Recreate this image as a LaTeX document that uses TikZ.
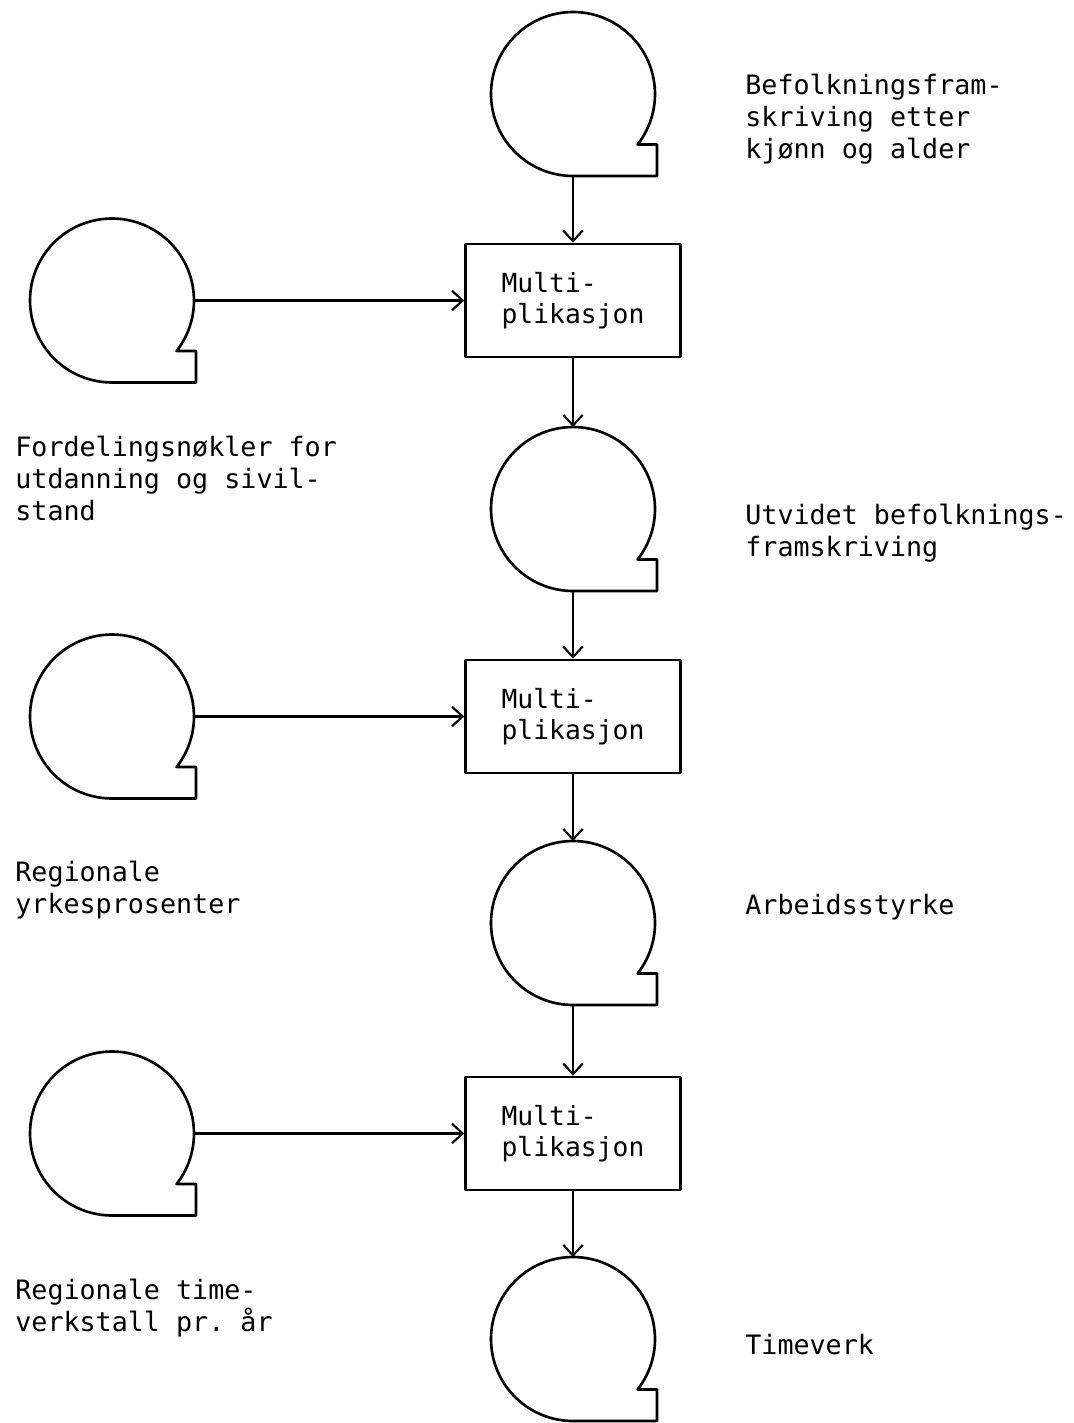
\documentclass[tikz,border=0pt]{standalone}
\usepackage{fontspec}
\setmonofont{DejaVu Sans Mono}
\usetikzlibrary{arrows.meta}
\tikzset{
  geom/.style={draw=black, line width=1.5pt, line cap=round, line join=round},
  flow/.style={draw=black, line width=1.2pt, -{Straight Barb[length=6pt,width=11pt]}},
  tapenode/.style={circle, minimum size=3.28cm, inner sep=0pt, outer sep=0pt},
  procbox/.style={geom, rectangle, minimum width=4.3cm, minimum height=2.26cm,
    align=left, inner sep=0pt, font=\ttfamily\fontsize{15}{17.6}\selectfont},
  lab/.style={anchor=north west, align=left, inner sep=0pt,
    font=\ttfamily\fontsize{15.2}{18}\selectfont},
}
% magnetic tape symbol round a named circle node
\newcommand{\tapeoutline}[1]{%
  \draw[geom] (#1.-38) arc[start angle=-38, end angle=270, radius=1.64cm]
    -- ([xshift=1.68cm]#1.south) |- (#1.-38) -- cycle;
}

\begin{document}
\begin{tikzpicture}[x=0.02cm, y=0.02cm]
  \fill[white] (0,0) rectangle (1074,-1423);
  \useasboundingbox (0,0) rectangle (1074,-1423);

  % main column
  \node[tapenode] (befolk) at (573,-94) {};
  \node[procbox] (mult1) at (573,-300.5) {Multi-\\plikasjon};
  \node[tapenode] (utvidet) at (573,-509) {};
  \node[procbox] (mult2) at (573,-716.5) {Multi-\\plikasjon};
  \node[tapenode] (arbeid) at (573,-923) {};
  \node[procbox] (mult3) at (573,-1133.5) {Multi-\\plikasjon};
  \node[tapenode] (timeverk) at (573,-1339) {};

  % keys on the left
  \node[tapenode] (fordel) at (112,-300.5) {};
  \node[tapenode] (yrke) at (112,-716.5) {};
  \node[tapenode] (timetall) at (112,-1133.5) {};

  \tapeoutline{befolk}
  \tapeoutline{utvidet}
  \tapeoutline{arbeid}
  \tapeoutline{timeverk}
  \tapeoutline{fordel}
  \tapeoutline{yrke}
  \tapeoutline{timetall}

  \draw[flow] (befolk.south) -- (mult1.north);
  \draw[flow] (mult1.south) -- (utvidet.north);
  \draw[flow] (utvidet.south) -- (mult2.north);
  \draw[flow] (mult2.south) -- (arbeid.north);
  \draw[flow] (arbeid.south) -- (mult3.north);
  \draw[flow] (mult3.south) -- (timeverk.north);
  \draw[flow] (fordel.east) -- (mult1.west);
  \draw[flow] (yrke.east) -- (mult2.west);
  \draw[flow] (timetall.east) -- (mult3.west);

  % labels
  \node[lab] (lbefolk) at (745,-74) {Befolkningsfram-\\skriving etter\\kjønn og alder};
  \node[lab] (lfordel) at (15,-436) {Fordelingsnøkler for\\utdanning og sivil-\\stand};
  \node[lab] (lutvidet) at (745,-504) {Utvidet befolknings-\\framskriving};
  \node[lab] (lyrke) at (15,-861) {Regionale\\yrkesprosenter};
  \node[lab] (larbeid) at (745,-894) {Arbeidsstyrke};
  \node[lab] (ltimetall) at (15,-1279) {Regionale time-\\verkstall pr. år};
  \node[lab] (ltimeverk) at (745,-1334) {Timeverk};
\end{tikzpicture}
\end{document}
